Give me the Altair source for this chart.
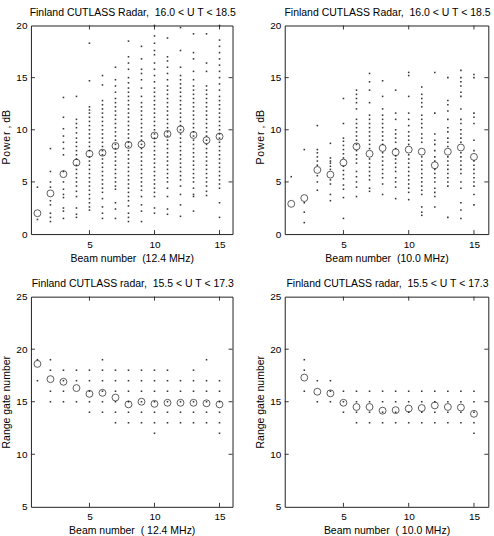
import altair as alt
import pandas as pd

FONT = "Liberation Sans"

# ---------------------------------------------------------------------------
# Echo power (dB) per beam, 12.4 MHz, 16.0 < UT < 18.5
BEAMS = list(range(1, 16))
power_12 = [
    [4.5, 1.4],
    [8.2, 6.0, 5.0, 4.5, 3.2, 2.8, 2.0, 1.6, 1.2],
    [13.1, 11.2, 10.1, 9.4, 8.8, 8.2, 7.6, 6.0, 5.0, 4.3, 3.8, 3.5, 2.5, 2.2, 1.5],
    [13.2, 11.0, 10.6, 10.2, 9.7, 9.2, 8.8, 8.4, 8.0, 7.6, 7.2, 6.6, 6.2, 5.8,
     5.4, 5.0, 4.6, 4.1, 3.6, 2.5, 1.9, 1.6],
    [18.3, 14.7, 12.2, 11.9, 11.6, 11.2, 10.8, 10.4, 10.0, 9.6, 9.2, 8.8, 8.4,
     8.0, 7.4, 7.0, 6.6, 6.2, 5.8, 5.4, 5.0, 4.6, 4.2, 3.8, 3.4, 3.0, 2.6, 2.3],
    [15.2, 14.3, 12.8, 12.4, 12.0, 11.6, 11.2, 10.8, 10.4, 10.0, 9.6, 9.2, 8.8,
     8.4, 8.0, 7.6, 7.2, 6.8, 6.4, 6.0, 5.6, 5.2, 4.8, 4.4, 4.0, 3.4, 2.6, 2.0, 1.5],
    [16.0, 14.8, 14.2, 13.6, 13.0, 12.6, 12.2, 11.8, 11.4, 11.0, 10.6, 10.2, 9.8,
     9.4, 9.0, 8.6, 8.2, 7.8, 7.4, 7.0, 6.6, 6.2, 5.8, 5.4, 5.0, 4.6, 4.3, 3.0,
     2.4, 1.5],
    [18.5, 17.0, 16.4, 15.8, 15.0, 14.5, 14.0, 13.6, 13.2, 12.8, 12.4, 12.0, 11.6,
     11.2, 10.8, 10.4, 10.0, 9.6, 9.2, 8.8, 8.4, 8.0, 7.6, 7.2, 6.8, 6.4, 6.0,
     5.6, 5.2, 4.8, 4.4, 4.0, 3.6, 3.2, 2.7, 2.0, 1.6, 1.2],
    [18.0, 16.8, 15.8, 15.4, 14.8, 14.0, 13.2, 12.6, 12.2, 11.8, 11.4, 11.0, 10.6,
     10.2, 9.8, 9.4, 9.0, 8.6, 8.2, 7.8, 7.4, 7.0, 6.6, 6.2, 5.8, 5.4, 5.0, 4.6,
     4.2, 3.6, 2.8, 2.2, 1.2],
    [20.0, 19.0, 18.3, 17.6, 17.2, 16.4, 15.8, 15.2, 14.6, 14.0, 13.6, 13.2, 12.8,
     12.4, 12.0, 11.6, 11.2, 10.8, 10.4, 10.0, 9.6, 9.2, 8.8, 8.4, 8.0, 7.6, 7.2,
     6.8, 6.4, 6.0, 5.6, 5.2, 4.8, 4.4, 4.0, 3.6, 2.5, 2.0],
    [18.8, 17.0, 16.6, 16.0, 15.4, 14.8, 14.2, 13.8, 13.4, 13.0, 12.6, 12.2, 11.8,
     11.4, 11.0, 10.6, 10.2, 9.8, 9.4, 9.0, 8.6, 8.2, 7.8, 7.4, 7.0, 6.6, 6.2,
     5.8, 5.4, 5.0, 4.4, 3.6, 2.4, 1.9],
    [19.8, 17.6, 16.0, 15.2, 14.8, 14.4, 14.0, 13.6, 13.2, 12.8, 12.4, 12.0, 11.6,
     11.2, 10.8, 10.4, 10.0, 9.6, 9.2, 8.8, 8.4, 8.0, 7.6, 7.2, 6.8, 6.4, 6.0,
     5.6, 5.2, 4.6, 3.8, 2.8, 1.7],
    [19.2, 17.4, 16.8, 15.6, 14.8, 14.2, 13.8, 13.4, 13.0, 12.6, 12.2, 11.8, 11.4,
     11.0, 10.6, 10.2, 9.8, 9.4, 9.0, 8.6, 8.2, 7.8, 7.4, 7.0, 6.6, 6.2, 5.8,
     5.4, 5.0, 4.4, 3.8, 3.6, 2.2],
    [19.2, 16.4, 15.6, 14.2, 13.8, 13.4, 13.0, 12.6, 12.2, 11.8, 11.4, 11.0, 10.6,
     10.2, 9.8, 9.4, 9.0, 8.6, 8.2, 7.8, 7.4, 7.0, 6.6, 6.2, 5.8, 5.4, 5.0, 4.6,
     4.1, 3.7],
    [20.0, 18.6, 18.0, 17.4, 16.8, 16.2, 15.6, 15.0, 14.4, 13.8, 13.2, 12.8, 12.4,
     12.0, 11.6, 11.2, 10.8, 10.4, 10.0, 9.6, 9.2, 8.8, 8.4, 8.0, 7.6, 7.2, 6.8,
     6.4, 6.0, 5.6, 5.2, 4.8, 4.4, 3.0, 1.6],
]
power_12_mean = [2.0, 3.9, 5.75, 6.85, 7.7, 7.8, 8.45, 8.55, 8.6, 9.45, 9.6,
                 10.05, 9.5, 9.0, 9.35]

# Echo power (dB) per beam, 10.0 MHz, 16.0 < UT < 18.5
power_10 = [
    [5.5],
    [8.1, 3.0, 2.1, 1.1],
    [10.4, 8.1, 7.8, 7.4, 7.0, 6.6, 5.6, 5.0, 4.2],
    [8.7, 7.3, 7.0, 6.8, 6.5, 6.2, 5.2, 4.8, 3.8, 3.2],
    [13.0, 10.6, 9.2, 8.9, 8.5, 8.1, 7.7, 7.3, 6.5, 6.1, 5.7, 5.3, 4.7, 4.3, 3.5, 1.5],
    [13.8, 13.4, 13.0, 12.6, 12.0, 11.0, 10.6, 10.2, 9.8, 9.4, 9.0, 8.6, 8.0,
     7.6, 7.2, 6.8, 6.0, 5.5, 5.0, 4.5, 3.6],
    [15.4, 14.6, 13.8, 12.6, 11.4, 11.0, 10.6, 10.2, 9.8, 9.4, 9.0, 8.6, 8.2,
     7.2, 6.8, 6.4, 6.0, 5.6, 5.2, 4.4, 4.1],
    [14.7, 13.2, 12.0, 11.4, 11.0, 10.6, 10.2, 9.8, 9.4, 9.0, 8.6, 7.8, 7.4,
     7.0, 6.6, 6.2, 5.8, 5.4, 4.8, 3.8],
    [13.8, 11.6, 11.0, 10.0, 9.6, 9.2, 8.8, 8.2, 7.5, 7.2, 6.8, 6.4, 6.0, 5.4,
     5.0, 4.5, 3.4],
    [15.5, 15.2, 13.2, 11.6, 11.0, 10.4, 9.8, 9.4, 9.0, 8.6, 7.6, 7.2, 6.8,
     6.4, 6.0, 5.6, 5.2, 4.8, 4.4, 4.0, 3.3],
    [14.1, 13.4, 13.0, 12.6, 12.2, 11.4, 11.0, 10.6, 10.2, 9.6, 9.2, 8.8, 7.4,
     7.0, 6.6, 6.2, 5.8, 5.4, 5.0, 4.6, 4.2, 3.8, 2.6, 2.1, 1.8],
    [15.5, 11.6, 9.6, 9.0, 8.6, 8.0, 7.4, 7.0, 6.2, 5.8, 5.4, 5.0, 4.4, 4.0,
     3.6, 2.6],
    [15.0, 12.8, 12.4, 11.8, 11.0, 10.2, 9.8, 9.2, 8.8, 8.4, 7.4, 7.0, 6.6,
     6.2, 5.8, 5.4, 5.0, 4.6, 1.6],
    [15.7, 15.0, 14.6, 14.2, 13.6, 13.2, 12.0, 11.0, 10.6, 10.0, 9.6, 9.2, 8.8,
     7.8, 7.4, 7.0, 6.6, 6.2, 5.8, 5.0, 4.4, 3.0, 2.3, 1.5],
    [15.3, 15.0, 11.6, 11.2, 10.6, 9.0, 8.0, 7.0, 6.6, 6.2, 5.8, 5.4, 5.0, 4.6,
     3.8, 2.8],
]
power_10_mean = [2.9, 3.45, 6.15, 5.7, 6.85, 8.4, 7.7, 8.25, 7.85, 8.1, 7.9,
                 6.6, 7.9, 8.3, 7.4]

# Range gates per beam, 12.4 MHz, 15.5 < UT < 17.3
gate_12 = [
    [19, 17],
    [19, 18, 16, 15],
    [18, 17, 16, 15],
    [18, 17, 15],
    [18, 17, 16, 15, 14],
    [19, 18, 17, 16, 15, 14],
    [18, 17, 16, 15, 14, 13],
    [18, 17, 16, 15, 14, 13],
    [18, 17, 16, 15, 14, 13],
    [18, 17, 16, 15, 14, 13, 12],
    [18, 17, 16, 15, 14, 13],
    [17, 16, 15, 14, 13],
    [18, 17, 16, 15, 14, 13],
    [19, 17, 16, 15, 14, 13],
    [17, 16, 15, 14, 13, 12],
]
gate_12_mean = [18.6, 17.15, 16.9, 16.3, 15.75, 15.85, 15.4, 14.75, 15.0,
                14.8, 14.9, 14.9, 14.9, 14.85, 14.75]

# Range gates per beam, 10.0 MHz (beams 2-15), 15.5 < UT < 17.3
BEAMS_10_GATE = list(range(2, 16))
gate_10 = [
    [19, 18, 16],
    [17, 15],
    [17, 16, 15],
    [16, 15, 14],
    [16, 15, 14, 13],
    [16, 15, 14, 13],
    [16, 15, 14, 13],
    [16, 15, 14, 13],
    [16, 15, 14, 13],
    [16, 15, 14, 13],
    [16, 15, 14, 13],
    [16, 15, 14, 13],
    [16, 15, 14, 13],
    [16, 15, 14, 13, 12],
]
gate_10_mean = [17.3, 15.95, 15.8, 14.9, 14.5, 14.5, 14.15, 14.2, 14.35, 14.4,
                14.65, 14.5, 14.45, 13.85]

X_TICKS = [5, 10, 15]
POWER_TICKS = [0, 5, 10, 15, 20]
GATE_TICKS = [5, 10, 15, 20, 25]

NB = "\u00a0"
TITLE_POWER = f"Finland CUTLASS Radar, {NB}16.0 < U T < 18.5"
TITLE_GATE = f"Finland CUTLASS radar, {NB}15.5 < U T < 17.3"
Y_POWER = "P\u200ao\u200aw\u200ae\u200ar , dB"
Y_GATE = "Range gate number"


def long_form(beams, columns):
    rows = [(b, v) for b, col in zip(beams, columns) for v in col]
    return pd.DataFrame(rows, columns=["beam", "value"])


def panel(beams, dots, mean_beams, means, title, ylab, xlab, ydom, yticks,
          width, height, xdom, ytitle_shift=0):
    xs = alt.Scale(domain=xdom, nice=False, zero=False)
    ys = alt.Scale(domain=ydom, nice=False, zero=False)
    x_axis = alt.Axis(values=X_TICKS, title=xlab, ticks=False, domain=False,
                      grid=False, labelPadding=5, titlePadding=4)
    y_axis = alt.Axis(values=yticks, title=ylab, ticks=False, domain=False,
                      grid=False, labelPadding=4, titlePadding=4,
                      titleY=height / 2 + ytitle_shift)

    def X():
        return alt.X("beam:Q", scale=xs, axis=x_axis)

    def Y():
        return alt.Y("value:Q", scale=ys, axis=y_axis)

    dots_df = long_form(beams, dots)
    mean_df = pd.DataFrame({"beam": mean_beams, "value": means})

    dot_layer = alt.Chart(dots_df).mark_square(
        size=2.5, color="#222222", opacity=0.9
    ).encode(x=X(), y=Y())
    mean_layer = alt.Chart(mean_df).mark_point(
        shape="circle", filled=False, size=48, color="black", strokeWidth=0.9
    ).encode(x=X(), y=Y())

    # inward tick marks on all four sides of the frame
    tick = dict(color="#222222", strokeWidth=0.9)
    xt = pd.DataFrame({"beam": X_TICKS})
    yt = pd.DataFrame({"value": [v for v in yticks if ydom[0] < v < ydom[1]]})
    bottom_ticks = alt.Chart(xt).mark_rule(**tick).encode(
        x=X(), y=alt.value(height), y2=alt.value(height - 4))
    top_ticks = alt.Chart(xt).mark_rule(**tick).encode(
        x=X(), y=alt.value(0), y2=alt.value(4))
    left_ticks = alt.Chart(yt).mark_rule(**tick).encode(
        y=Y(), x=alt.value(0), x2=alt.value(4))
    right_ticks = alt.Chart(yt).mark_rule(**tick).encode(
        y=Y(), x=alt.value(width), x2=alt.value(width - 4))

    # panel heading, centred above the frame
    heading = alt.Chart(pd.DataFrame({"t": [title]})).mark_text(
        font=FONT, fontSize=10.5, color="black", align="center",
        baseline="alphabetic"
    ).encode(x=alt.value(width / 2 + 1), y=alt.value(-10), text="t:N")

    return alt.layer(
        dot_layer, mean_layer, bottom_ticks, top_ticks, left_ticks, right_ticks,
        heading,
    ).properties(width=width, height=height)


tl = panel(BEAMS, power_12, BEAMS, power_12_mean, TITLE_POWER, Y_POWER,
           f"Beam number {NB}(12.4 MHz)", [0, 20], POWER_TICKS, 202, 209,
           [0.5, 16], ytitle_shift=7)
tr = panel(BEAMS, power_10, BEAMS, power_10_mean, TITLE_POWER, Y_POWER,
           f"Beam number {NB}(10.0 MHz)", [0, 20], POWER_TICKS, 204, 209,
           [0.5, 16.1], ytitle_shift=7)
bl = panel(BEAMS, gate_12, BEAMS, gate_12_mean, TITLE_GATE, Y_GATE,
           f"Beam number {NB}( 12.4 MHz)", [5, 25], GATE_TICKS, 202, 210.6, [0.5, 16])
br = panel(BEAMS_10_GATE, gate_10, BEAMS_10_GATE, gate_10_mean, TITLE_GATE, Y_GATE,
           f"Beam number {NB}( 10.0 MHz)", [5, 25], GATE_TICKS, 204, 210.6, [0.5, 16.1])

chart = alt.concat(
    tl, tr, bl, br,
    columns=2,
    spacing=alt.RowColnumber(row=62.7, column=52.3),
    bounds="flush",
).properties(
    padding={"left": 1, "top": 6, "right": 2, "bottom": 2},
    background="white",
).configure_view(
    stroke="#222222", strokeWidth=1
).configure_axis(
    labelFont=FONT, labelFontSize=10, labelColor="black",
    titleFont=FONT, titleFontSize=10.5, titleFontWeight="normal", titleColor="black",
)

chart.save("out.html", embed_options={"renderer": "svg", "actions": False})
